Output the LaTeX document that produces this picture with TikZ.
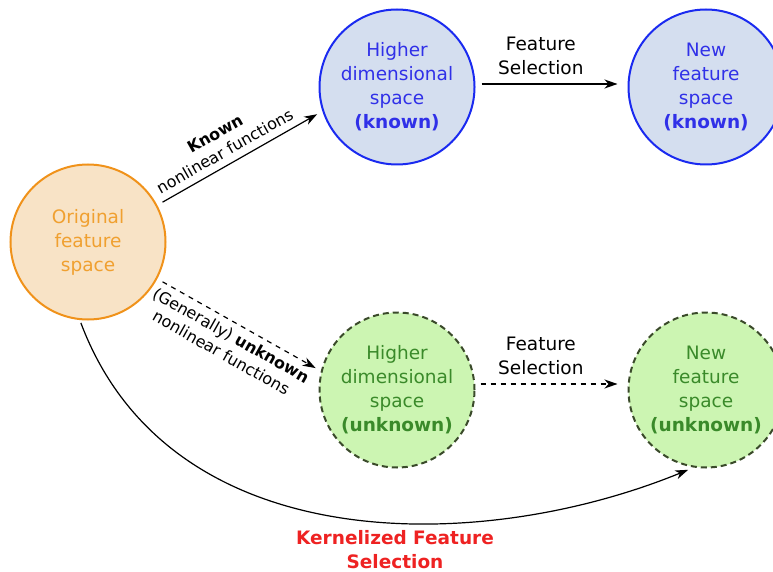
\documentclass[tikz,border=0pt]{standalone}
\usepackage{fontspec}
\setmainfont{DejaVu Sans}
\usetikzlibrary{arrows.meta}
\definecolor{origfill}{HTML}{F8E3C6}
\definecolor{origline}{HTML}{F0921A}
\definecolor{origtext}{HTML}{F0A030}
\definecolor{knownfill}{HTML}{D4DEEF}
\definecolor{knownline}{HTML}{1A2AF0}
\definecolor{knowntext}{HTML}{3030E8}
\definecolor{unkfill}{HTML}{CCF5B2}
\definecolor{unkline}{HTML}{3A4A2A}
\definecolor{unktext}{HTML}{3A8A2A}
\definecolor{kernred}{HTML}{EE2222}
\tikzset{
  space/.style={circle, minimum size=155pt, inner sep=0pt, align=center,
    font=\fontsize{18.5}{24}\selectfont, line width=2pt},
  origspace/.style={space, draw=origline, fill=origfill, text=origtext},
  knownspace/.style={space, draw=knownline, fill=knownfill, text=knowntext},
  unkspace/.style={space, draw=unkline, fill=unkfill, text=unktext,
    dash pattern=on 6pt off 4pt},
  conn/.style={-{Stealth[length=13pt,width=9pt,inset=4pt]}, line width=1.2pt},
  dconn/.style={conn, dash pattern=on 5pt off 5pt},
  arrlabel/.style={font=\fontsize{16}{20}\selectfont, align=center},
  fslabel/.style={font=\fontsize{18.5}{24}\selectfont, align=center}
}
\begin{document}
\begin{tikzpicture}[x=1pt, y=-1pt]
  \useasboundingbox (0,0) rectangle (773,572);

  % feature spaces
  \node[origspace]  (orig) at (88,242)  {Original\\feature\\space};
  \node[knownspace] (hk)   at (397,87)  {Higher\\dimensional\\space\\\textbf{(known)}};
  \node[knownspace] (nk)   at (706,87)  {New\\feature\\space\\\textbf{(known)}};
  \node[unkspace]   (hu)   at (397,390) {Higher\\dimensional\\space\\\textbf{(unknown)}};
  \node[unkspace]   (nu)   at (706,390) {New\\feature\\space\\\textbf{(unknown)}};

  % mappings into the higher dimensional spaces
  \draw[conn, shorten <=6pt, shorten >=6pt] (orig.28) --
    node[arrlabel, sloped, above, inner sep=7pt, pos=0.45] {\textbf{Known}\\nonlinear functions} (hk.198);
  \draw[dconn, shorten <=6pt, shorten >=6pt] (orig.-28) --
    node[arrlabel, sloped, below, inner sep=6pt, pos=0.49] {(Generally) \textbf{unknown}\\nonlinear functions} (hu.166);

  % feature selection steps
  \draw[conn, shorten <=6pt, shorten >=10pt] ([yshift=3pt]hk.east) --
    node[fslabel, above, inner sep=9pt, pos=0.43] {Feature\\Selection} ([yshift=3pt]nk.west);
  \draw[dconn, shorten <=5pt, shorten >=10pt] ([yshift=6pt]hu.east) --
    node[fslabel, above, inner sep=9pt, pos=0.43] {Feature\\Selection} ([yshift=6pt]nu.west);

  % direct route
  \draw[conn, shorten <=3pt, shorten >=6pt] (orig.-96)
    .. controls (170,560) and (480,555) .. (nu.-99);
  \node[font=\fontsize{18.5}{24}\selectfont\bfseries, text=kernred, align=center]
    (kfs) at (395,550) {Kernelized Feature\\Selection};
\end{tikzpicture}
\end{document}
